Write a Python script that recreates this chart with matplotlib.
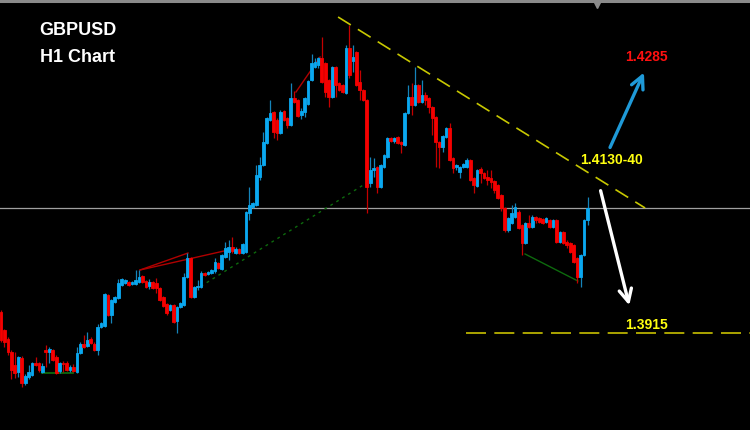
import matplotlib
matplotlib.use("Agg")
import matplotlib.pyplot as plt
from matplotlib.patches import FancyArrowPatch
import numpy as np

# ---------------- data (GBPUSD H1 candles) ----------------
opens = [1.39470, 1.39200, 1.39065, 1.38870, 1.38675, 1.38570, 1.38780, 1.38405, 1.38495, 1.38525,
         1.38705, 1.38705, 1.38570, 1.38900, 1.38870, 1.38900, 1.38795, 1.38585, 1.38705, 1.38705,
         1.38600, 1.38645, 1.38570, 1.38855, 1.38990, 1.38960, 1.39065, 1.38990, 1.38900, 1.39245,
         1.39260, 1.39725, 1.39425, 1.39620, 1.39680, 1.39875, 1.39905, 1.39920, 1.39890, 1.39890,
         1.39920, 1.40010, 1.39935, 1.39860, 1.39920, 1.39905, 1.39830, 1.39695, 1.39590, 1.39500,
         1.39575, 1.39335, 1.39545, 1.39575, 1.39995, 1.40280, 1.39695, 1.39845, 1.39845, 1.40055,
         1.40040, 1.40055, 1.40085, 1.40205, 1.40115, 1.40295, 1.40370, 1.40445, 1.40355, 1.40415,
         1.40355, 1.40370, 1.40955, 1.41045, 1.41075, 1.41495, 1.41675, 1.42005, 1.42350, 1.42470,
         1.42350, 1.42155, 1.42485, 1.42380, 1.42275, 1.42680, 1.42650, 1.42425, 1.42470, 1.42590,
         1.42950, 1.43145, 1.43175, 1.43280, 1.43205, 1.42950, 1.42695, 1.43145, 1.42905, 1.42875,
         1.42755, 1.43430, 1.43235, 1.43370, 1.42920, 1.42800, 1.42650, 1.41405, 1.41600, 1.41645,
         1.41345, 1.41645, 1.41795, 1.42080, 1.42035, 1.42095, 1.42020, 1.41975, 1.42455, 1.42695,
         1.42575, 1.42875, 1.42620, 1.42725, 1.42680, 1.42545, 1.42395, 1.42020, 1.41945, 1.42095,
         1.42230, 1.41780, 1.41645, 1.41570, 1.41645, 1.41645, 1.41750, 1.41480, 1.41360, 1.41615,
         1.41555, 1.41495, 1.41480, 1.41435, 1.41375, 1.41225, 1.41030, 1.40700, 1.40805, 1.40895,
         1.40970, 1.40775, 1.40505, 1.40805, 1.40745, 1.40895, 1.40880, 1.40865, 1.40820, 1.40850,
         1.40745, 1.40850, 1.40520, 1.40670, 1.40520, 1.40505, 1.40475, 1.40280, 1.39995, 1.40325,
         1.40850]
closes = [1.39050, 1.39020, 1.38870, 1.38600, 1.38555, 1.38795, 1.38405, 1.38510, 1.38570, 1.38705,
          1.38675, 1.38600, 1.38660, 1.38870, 1.38915, 1.38750, 1.38555, 1.38705, 1.38690, 1.38600,
          1.38645, 1.38585, 1.38855, 1.38990, 1.38945, 1.39050, 1.39005, 1.38900, 1.39245, 1.39305,
          1.39740, 1.39425, 1.39650, 1.39695, 1.39905, 1.39965, 1.39950, 1.39875, 1.39920, 1.39950,
          1.39995, 1.39920, 1.39845, 1.39920, 1.39830, 1.39830, 1.39650, 1.39560, 1.39455, 1.39575,
          1.39320, 1.39545, 1.39605, 1.39995, 1.40280, 1.39695, 1.39845, 1.39860, 1.40055, 1.40025,
          1.40070, 1.40100, 1.40220, 1.40130, 1.40325, 1.40430, 1.40445, 1.40385, 1.40415, 1.40355,
          1.40490, 1.40970, 1.41075, 1.41105, 1.41525, 1.41675, 1.42020, 1.42380, 1.42455, 1.42170,
          1.42155, 1.42470, 1.42350, 1.42275, 1.42680, 1.42620, 1.42410, 1.42485, 1.42680, 1.42935,
          1.43205, 1.43220, 1.43280, 1.42920, 1.42770, 1.42695, 1.43145, 1.42875, 1.42800, 1.42770,
          1.43430, 1.43025, 1.43295, 1.42875, 1.42800, 1.42650, 1.41345, 1.41600, 1.41630, 1.41345,
          1.41675, 1.41825, 1.42080, 1.42035, 1.42080, 1.42005, 1.41990, 1.42455, 1.42695, 1.42575,
          1.42875, 1.42620, 1.42725, 1.42650, 1.42545, 1.42380, 1.42020, 1.41945, 1.42110, 1.42230,
          1.41750, 1.41630, 1.41675, 1.41645, 1.41690, 1.41750, 1.41450, 1.41375, 1.41600, 1.41555,
          1.41480, 1.41450, 1.41420, 1.41300, 1.41180, 1.41030, 1.40700, 1.40880, 1.40955, 1.41045,
          1.40730, 1.40505, 1.40805, 1.40745, 1.40895, 1.40850, 1.40820, 1.40805, 1.40880, 1.40745,
          1.40850, 1.40520, 1.40670, 1.40505, 1.40475, 1.40370, 1.40220, 1.39995, 1.40325, 1.40850,
          1.41030]
highs = [1.39500, 1.39215, 1.39095, 1.38900, 1.38870, 1.38810, 1.38810, 1.38540, 1.38675, 1.38720,
         1.38795, 1.38720, 1.38705, 1.38975, 1.38945, 1.38915, 1.38825, 1.38720, 1.38735, 1.38735,
         1.38675, 1.38690, 1.38945, 1.39020, 1.39125, 1.39170, 1.39095, 1.39020, 1.39290, 1.39320,
         1.39755, 1.39740, 1.39665, 1.39710, 1.39965, 1.39980, 1.39965, 1.39935, 1.39935, 1.40100,
         1.40100, 1.40025, 1.39950, 1.39965, 1.39935, 1.39980, 1.39845, 1.39710, 1.39605, 1.39590,
         1.39590, 1.39560, 1.39620, 1.40055, 1.40355, 1.40295, 1.39860, 1.39950, 1.40085, 1.40070,
         1.40085, 1.40115, 1.40280, 1.40220, 1.40340, 1.40520, 1.40550, 1.40595, 1.40445, 1.40430,
         1.40505, 1.40985, 1.41345, 1.41120, 1.41675, 1.41795, 1.42170, 1.42395, 1.42650, 1.42485,
         1.42380, 1.42500, 1.42500, 1.42395, 1.42905, 1.42785, 1.42665, 1.42530, 1.42695, 1.42950,
         1.43340, 1.43280, 1.43295, 1.43595, 1.43220, 1.42965, 1.43160, 1.43160, 1.42920, 1.42890,
         1.43475, 1.43775, 1.43475, 1.43385, 1.43100, 1.42815, 1.42665, 1.41795, 1.41780, 1.41660,
         1.41690, 1.41840, 1.42095, 1.42095, 1.42095, 1.42110, 1.42035, 1.42470, 1.42875, 1.42905,
         1.43145, 1.42890, 1.42950, 1.42770, 1.42695, 1.42560, 1.42410, 1.42035, 1.42125, 1.42245,
         1.42305, 1.41795, 1.41690, 1.41660, 1.41705, 1.41780, 1.41765, 1.41495, 1.41615, 1.41645,
         1.41570, 1.41600, 1.41600, 1.41450, 1.41390, 1.41240, 1.41045, 1.40895, 1.41075, 1.41105,
         1.41000, 1.40790, 1.40820, 1.40925, 1.40925, 1.40910, 1.40895, 1.40880, 1.40895, 1.40865,
         1.40865, 1.40865, 1.40685, 1.40685, 1.40550, 1.40520, 1.40490, 1.40295, 1.40340, 1.40865,
         1.41195]
lows = [1.39020, 1.38945, 1.38825, 1.38465, 1.38480, 1.38495, 1.38345, 1.38375, 1.38465, 1.38510,
        1.38660, 1.38570, 1.38555, 1.38645, 1.38705, 1.38735, 1.38540, 1.38555, 1.38570, 1.38585,
        1.38570, 1.38570, 1.38555, 1.38840, 1.38930, 1.38945, 1.38990, 1.38885, 1.38825, 1.39230,
        1.39245, 1.39410, 1.39305, 1.39605, 1.39665, 1.39860, 1.39890, 1.39860, 1.39875, 1.39875,
        1.39905, 1.39905, 1.39830, 1.39815, 1.39815, 1.39755, 1.39635, 1.39545, 1.39425, 1.39485,
        1.39305, 1.39155, 1.39530, 1.39560, 1.39980, 1.39680, 1.39680, 1.39800, 1.39830, 1.40010,
        1.40025, 1.40040, 1.40055, 1.40115, 1.40100, 1.40280, 1.40250, 1.40355, 1.40340, 1.40340,
        1.40340, 1.40355, 1.40850, 1.41030, 1.41060, 1.41450, 1.41660, 1.41990, 1.42335, 1.42080,
        1.42050, 1.42140, 1.42335, 1.42230, 1.42260, 1.42605, 1.42395, 1.42365, 1.42395, 1.42575,
        1.42935, 1.43130, 1.43130, 1.42905, 1.42695, 1.42545, 1.42680, 1.42695, 1.42785, 1.42755,
        1.42740, 1.42980, 1.43070, 1.42860, 1.42650, 1.42635, 1.40955, 1.41345, 1.41495, 1.41255,
        1.41330, 1.41630, 1.41780, 1.42020, 1.42005, 1.41990, 1.41855, 1.41960, 1.42440, 1.42425,
        1.42560, 1.42605, 1.42605, 1.42575, 1.42455, 1.42125, 1.41645, 1.41630, 1.41870, 1.42080,
        1.41735, 1.41555, 1.41600, 1.41480, 1.41630, 1.41630, 1.41435, 1.41255, 1.41345, 1.41405,
        1.41465, 1.41375, 1.41330, 1.41255, 1.41165, 1.40985, 1.40670, 1.40670, 1.40790, 1.40880,
        1.40715, 1.40325, 1.40490, 1.40730, 1.40730, 1.40805, 1.40805, 1.40790, 1.40805, 1.40730,
        1.40730, 1.40505, 1.40505, 1.40490, 1.40430, 1.40355, 1.40205, 1.39905, 1.39845, 1.40310,
        1.40775]

# analysis lines: (bar index, price) pairs
resistance_x = [97.7, 186.7]
resistance_y = [1.43895, 1.41030]
support_level = 1.3915
support_x = [134.8, 217.2]
green_dotted_x = [56.2, 106.4]
green_dotted_y = [1.39800, 1.41420]
green_low1_x = [11.9, 20.9]
green_low1_y = [1.38555, 1.38555]
green_low2_x = [151.9, 167.2]
green_low2_y = [1.40340, 1.39935]
red_lines = [([40.3, 54.2], [1.40100, 1.40355]),
             ([40.3, 67.2], [1.40100, 1.40415]),
             ([85.5, 92.5], [1.42770, 1.43295])]
up_arrow = ((176.2, 1.41900), (186.7, 1.43100))
down_arrow = ((173.6, 1.41330), (182.3, 1.39530))
target_up = "1.4285"
pivot_label = "1.4130-40"
target_down = "1.3915"

# ---------------- plot ----------------
plt.rcParams['font.family'] = ['Liberation Sans', 'DejaVu Sans']
fig = plt.figure(figsize=(7.5, 4.3), dpi=100, facecolor='black')
ax = fig.add_axes([0, 0, 1, 1])
ax.set_facecolor('black')
ax.set_xlim(-0.29, 217.1)
ax.set_ylim(1.3770, 1.4415)
ax.axis('off')

o = np.array(opens); c = np.array(closes); h = np.array(highs); l = np.array(lows)
x = np.arange(len(o))
bull = c >= o
body_col = np.where(bull, '#0aa8f0', '#f50000')
wick_col = np.where(bull, '#1584ba', '#c40000')

# last price line
ax.axhline(c[-1], color='#a0a0a0', lw=0.9, zorder=1)

ax.vlines(x, l, h, colors=wick_col, lw=0.9, zorder=3)
bottoms = np.minimum(o, c)
heights = np.abs(c - o)
ax.bar(x, heights, bottom=bottoms, width=0.8, color=body_col,
       edgecolor=body_col, linewidth=0.6, zorder=4)

# trend lines
ax.plot(resistance_x, resistance_y, color='#c8c800', lw=1.2,
        linestyle=(0, (9, 5)), zorder=5)
ax.plot(support_x, [support_level, support_level], color='#c8c000', lw=1.2,
        linestyle=(0, (12, 5)), zorder=5)
ax.plot(green_dotted_x, green_dotted_y, color='#0d6a0d', lw=1.0,
        linestyle=(0, (2, 3)), zorder=2)
ax.plot(green_low1_x, green_low1_y, color='#0d6a0d', lw=1.3, zorder=2)
ax.plot(green_low2_x, green_low2_y, color='#0d6a0d', lw=1.0, zorder=2)
for xs, ys in red_lines:
    ax.plot(xs, ys, color='#b00000', lw=1.0, zorder=2)

# arrows
for (p0, p1), col in ((up_arrow, '#1f9ad8'), (down_arrow, 'white')):
    arr = FancyArrowPatch(p0, p1, arrowstyle='->,head_length=0.9,head_width=0.45',
                          mutation_scale=10, color=col, lw=2.4, zorder=6)
    ax.add_patch(arr)

# labels
ax.text(187.2, 1.43295, target_up, color='#ff1010', fontsize=10,
        fontweight='bold', ha='center', va='center', zorder=7)
ax.text(177.1, 1.41750, pivot_label, color='#ffff10', fontsize=10,
        fontweight='bold', ha='center', va='center', zorder=7)
ax.text(187.2, 1.39275, target_down, color='#ffff10', fontsize=10,
        fontweight='bold', ha='center', va='center', zorder=7)

ax.text(0.053, 0.928, "GBPUSD", transform=ax.transAxes, color='white',
        fontsize=13, fontweight='bold', ha='left', va='center')
ax.text(0.053, 0.867, "H1 Chart", transform=ax.transAxes, color='white',
        fontsize=13, fontweight='bold', ha='left', va='center')

# top border with marker
ax.axhline(1.44135, color='#8a8a8a', lw=2.2, zorder=8)
ax.plot([172.8], [1.4408], marker='v', color='#8a8a8a', markersize=4,
        clip_on=False, zorder=8)

fig.savefig('out.png', dpi=100, facecolor='black')
